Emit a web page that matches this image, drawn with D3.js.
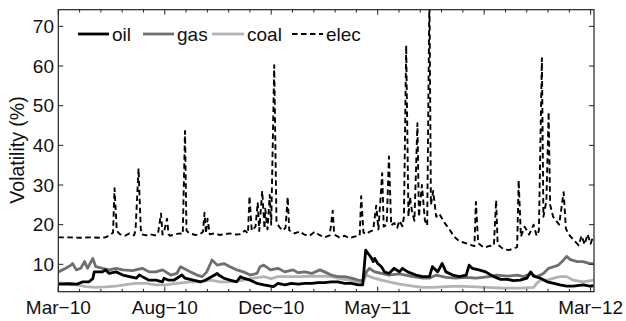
<!DOCTYPE html>
<html><head><meta charset="utf-8">
<script src="https://cdn.jsdelivr.net/npm/d3@7/dist/d3.min.js"></script>
<style>body{margin:0;background:#fff}svg{display:block}</style>
</head><body><svg id="c" width="626" height="321"></svg>
<script>
// x = days since the first tick (Mar-10); tick labels evenly spaced
const tickDays = [0, 142, 284, 426, 568, 710];
const tickLabels = ["Mar\u221210", "Aug\u221210", "Dec\u221210", "May\u221211", "Oct\u221211", "Mar\u221212"];
const yTicks = [10, 20, 30, 40, 50, 60, 70];
const seriesNames = ["oil", "gas", "coal", "elec"];

const oil = [[0,5.0],[15,5.1],[25,5.0],[33,5.6],[41,5.6],[46,6.4],[48,8.1],[55,8.1],[59,8.1],[63,8.6],[68,7.7],[77,8.1],[86,7.3],[95,6.9],[104,6.5],[108,7.3],[112,6.9],[121,6.0],[130,6.0],[139,5.6],
[141,6.5],[147,6.0],[154,6.0],[165,7.3],[169,6.5],[180,6.0],[190,5.6],[196,6.0],[212,7.7],[214,7.3],[221,6.5],[229,6.0],[238,5.6],[243,6.9],[247,6.5],[256,6.0],[265,5.2],[274,4.8],[287,4.4],
[293,5.2],[302,4.8],[311,5.2],[320,5.0],[329,5.2],[338,5.2],[347,5.4],[355,5.4],[364,5.6],[373,5.6],[382,5.2],[391,5.2],[400,4.8],[406,4.8],[410,13.6],[413,12.8],[418,11.5],[420,10.7],[422,11.5],[426,10.2],[431,9.4],
[435,8.1],[441,7.7],[448,9.0],[455,8.1],[459,9.0],[466,8.1],[477,7.3],[486,6.9],[495,6.9],[499,9.4],[501,9.0],[506,8.1],[512,10.2],[517,8.1],[526,7.3],[535,6.9],[544,7.3],[548,9.8],[552,9.0],[561,8.6],[570,8.1],[575,7.5],
[581,6.9],[590,6.2],[599,6.2],[607,5.9],[616,6.0],[625,6.5],[630,8.1],[634,7.0],[643,6.5],[652,5.6],[661,5.2],[669,4.8],[678,4.5],[687,4.5],[700,4.8],[709,4.5],[714,4.6]];

const gas = [[0,8.1],[10,9.0],[17,9.8],[19,10.2],[24,8.6],[30,9.0],[35,10.7],[39,9.0],[46,11.5],[50,9.4],[59,9.0],[68,8.6],[77,9.0],[86,8.6],[99,8.4],[112,9.0],[121,8.1],[130,8.1],[139,8.6],
[150,7.3],[158,7.7],[163,9.4],[167,9.0],[176,8.1],[185,7.3],[192,6.9],[198,8.1],[203,10.2],[205,11.1],[212,9.8],[221,10.2],[229,9.4],[238,8.6],[247,8.1],[256,7.3],[265,7.7],[269,9.4],[274,9.8],[283,8.6],
[293,9.0],[302,8.1],[313,8.6],[320,7.9],[329,8.1],[338,7.7],[349,8.6],[355,8.1],[364,7.3],[373,6.9],[382,6.9],[391,6.5],[400,6.0],[406,5.9],[411,8.1],[415,9.0],[422,8.1],[431,7.7],
[441,7.3],[455,7.6],[473,6.9],[486,6.5],[495,6.5],[504,7.3],[517,6.7],[530,6.5],[544,6.7],[557,6.5],[575,6.9],
[585,7.3],[599,7.0],[612,7.3],[621,6.9],[630,7.7],[638,6.9],[643,7.3],[647,7.7],[654,9.0],[661,9.4],[667,9.8],[674,11.1],[678,12.0],[683,11.2],[692,10.7],[700,10.7],[709,10.2],[714,10.2]];

const coal = [[0,5.4],[10,5.2],[24,4.8],[37,4.4],[50,4.2],[63,4.3],[77,4.5],[90,4.9],[103,5.2],[117,5.2],[130,4.8],[143,4.8],
[158,5.2],[176,5.6],[190,5.6],[203,6.0],[216,5.6],[229,5.6],[247,6.0],[260,6.5],[274,6.9],[284,6.4],
[293,6.9],[302,6.9],[320,6.9],[338,7.0],[355,7.0],[364,6.9],[373,6.5],[387,6.0],[400,5.6],[406,5.4],[411,7.3],[418,6.7],[431,6.0],
[441,5.6],[455,5.0],[473,4.5],[486,4.2],[499,4.2],[517,4.4],[535,4.5],[548,4.4],[572,4.2],
[594,4.0],[616,4.0],[634,4.2],[638,5.2],[643,6.0],[652,6.0],[661,6.5],[669,6.9],[678,6.9],[687,6.0],[700,5.6],[714,6.0]];

const elec = [[0,16.8],[16,16.8],[29,16.7],[42,16.8],[56,16.7],[63,16.8],[69,17.4],[73,18.0],[75,29.2],[78,18.5],[82,17.6],[89,17.2],[95,17.8],[101,17.3],[103,18.5],[107,34.2],[110,19.0],[111,17.6],[117,17.3],[122,17.6],[129,17.3],[133,17.8],[137,22.8],[139,17.5],[141,18.2],[145,21.5],[147,17.6],[149,17.2],[155,17.5],[162,17.8],[166,17.6],[169,43.6],[171,18.5],[175,17.8],[183,17.4],[189,17.6],[193,18.2],[195,23.0],[197,17.8],[199,21.5],[202,17.6],[209,17.8],[215,17.4],[222,17.6],[229,17.8],[235,17.5],[242,17.6],[249,18.5],[253,17.8],[255,27.2],[258,18.5],[263,19.5],[266,25.6],[268,18.4],[272,28.5],[275,19.0],[276,24.0],[279,18.8],[282,27.5],[284,20.0],[288,60.2],[291,20.5],[295,19.4],[299,18.5],[303,19.2],[306,27.0],[308,18.6],[315,17.8],[322,18.3],[328,17.5],[335,17.2],[342,18.2],[348,17.4],[355,16.8],[362,17.3],[366,23.5],[368,17.5],[375,16.8],[382,17.2],[388,16.6],[395,17.0],[402,17.3],[404,27.2],[407,18.0],[411,17.6],[415,18.2],[420,18.6],[424,24.8],[427,18.8],[432,33.0],[434,19.5],[438,20.0],[441,37.2],[444,19.8],[448,20.4],[452,19.2],[455,21.0],[459,19.6],[461,22.0],[464,65.2],[467,22.0],[469,27.0],[472,23.0],[475,21.0],[479,45.6],[481,22.0],[485,30.0],[489,21.0],[492,19.8],[495,78.0],[497,25.0],[500,28.5],[504,22.0],[508,22.8],[515,20.5],[521,19.0],[528,17.0],[535,15.8],[541,15.5],[548,15.0],[555,14.6],[557,25.7],[560,15.3],[568,14.2],[574,14.6],[581,14.8],[584,26.2],[586,15.0],[594,13.8],[601,13.6],[608,14.0],[612,14.4],[614,31.2],[617,17.0],[622,19.5],[628,17.5],[634,20.0],[638,17.2],[641,18.5],[645,62.0],[647,22.0],[651,26.0],[654,48.4],[656,25.0],[660,22.0],[664,21.0],[668,20.0],[674,28.2],[677,19.0],[681,17.5],[688,16.0],[694,14.8],[698,17.2],[702,15.0],[706,17.6],[710,15.2],[714,17.4]];

const FONT = "'Liberation Sans', Arial, sans-serif";
const L = 58.3, R = 594, T = 9.7, B = 291.7;
const svg = d3.select("#c");
const x = d3.scaleLinear().domain([0, 714.5]).range([L, R]);
const y = d3.scaleLinear().domain([3.1, 74.2]).range([B, T]);

svg.append("defs").append("clipPath").attr("id","clip").append("rect")
  .attr("x", L).attr("y", T).attr("width", R - L).attr("height", B - T);

const line = d3.line().x(d => x(d[0])).y(d => y(d[1]));
const g = svg.append("g").attr("clip-path", "url(#clip)");
const styles = {
  oil:  {color:"#000000", w:2.8, dash:null},
  gas:  {color:"#6f6f6f", w:2.8, dash:null},
  coal: {color:"#b3b3b3", w:2.8, dash:null},
  elec: {color:"#000000", w:1.9, dash:"5.5,3.5"}
};
const dataMap = {oil, gas, coal, elec};
["coal","gas","oil","elec"].forEach(n => {
  g.append("path").datum(dataMap[n]).attr("d", line)
   .attr("fill","none").attr("stroke", styles[n].color).attr("stroke-width", styles[n].w)
   .attr("stroke-linejoin","round")
   .attr("stroke-dasharray", styles[n].dash);
});

svg.append("rect").attr("x", L).attr("y", T).attr("width", R - L).attr("height", B - T)
  .attr("fill","none").attr("stroke","#222").attr("stroke-width",1.2);

const step = tickDays[1] - tickDays[0];
const minor = [];
for (let i = 0; i < tickDays.length - 1; i++) for (let k = 1; k < 5; k++) minor.push(tickDays[i] + step * k / 5);
const tk = svg.append("g").attr("stroke","#222").attr("stroke-width",1);
tickDays.forEach(d => {
  tk.append("line").attr("x1", x(d)).attr("x2", x(d)).attr("y1", B).attr("y2", B - 5);
  tk.append("line").attr("x1", x(d)).attr("x2", x(d)).attr("y1", T).attr("y2", T + 5);
});
minor.forEach(d => {
  tk.append("line").attr("x1", x(d)).attr("x2", x(d)).attr("y1", B).attr("y2", B - 2.8);
  tk.append("line").attr("x1", x(d)).attr("x2", x(d)).attr("y1", T).attr("y2", T + 2.8);
});
yTicks.forEach(v => {
  tk.append("line").attr("x1", L).attr("x2", L + 5).attr("y1", y(v)).attr("y2", y(v));
  tk.append("line").attr("x1", R).attr("x2", R - 5).attr("y1", y(v)).attr("y2", y(v));
});

const fs = 19;
function txt(sel){ return sel.attr("font-family", FONT).attr("font-size", fs).attr("fill","#111"); }
tickDays.forEach((d, i) => {
  txt(svg.append("text")).attr("x", x(d)).attr("y", 314).attr("text-anchor","middle").text(tickLabels[i]);
});
yTicks.forEach(v => {
  txt(svg.append("text")).attr("x", 54).attr("y", y(v)).attr("dy","0.35em").attr("text-anchor","end").text(v);
});
txt(svg.append("text")).attr("transform","translate(24,150) rotate(-90)").attr("text-anchor","middle")
  .attr("font-size", 19.5).text("Volatility (%)");

const leg = [
  {n:"oil", x1:78, x2:109, tx:112},
  {n:"gas", x1:143, x2:174, tx:177},
  {n:"coal", x1:212, x2:244, tx:247},
  {n:"elec", x1:292, x2:323, tx:326}
];
leg.forEach(l => {
  const s = styles[l.n];
  svg.append("line").attr("x1", l.x1).attr("x2", l.x2).attr("y1", 34).attr("y2", 34)
    .attr("stroke", s.color).attr("stroke-width", s.w).attr("stroke-dasharray", s.dash);
  txt(svg.append("text")).attr("x", l.tx).attr("y", 40.5).text(l.n);
});
</script></body></html>
